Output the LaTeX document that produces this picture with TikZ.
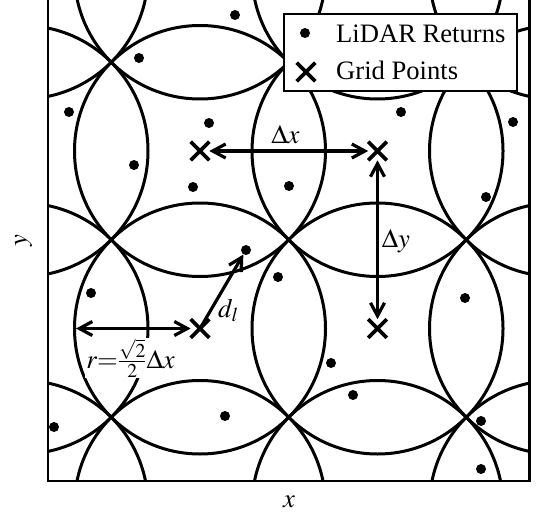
\documentclass[tikz,border=0pt]{standalone}
\usepackage{mathptmx}
\usepackage{fontspec}
\setmainfont{Liberation Serif}
\usetikzlibrary{arrows.meta,shapes.misc}
\begin{document}
\begin{tikzpicture}[x=1pt,y=-1pt,
  lbl/.style={font=\fontsize{26.6}{32}\selectfont, inner sep=0pt},
  ring/.style={line width=3pt},
  ret/.style={circle, fill=black, inner sep=0pt, minimum size=10pt},
  gp/.style={cross out, draw=black, line width=3.6pt, inner sep=0pt, minimum size=15pt},
  dim/.style={line width=3.2pt, >={Straight Barb[length=13pt,width=14pt]}},
  frame/.style={line width=2.6pt}]
\useasboundingbox (0,0) rectangle (537,513);
% circles of influence
\begin{scope}
  \clip (48,-5) rectangle (529.5,481);
  \foreach \cx in {22.5,200,377.5,555}
    \foreach \cy in {-26.5,151,328.5,506}
      \draw[ring] (\cx,\cy) circle[radius=125.5pt];
\end{scope}
% LiDAR returns
\node[ret] (d1) at (235,15) {};
\node[ret] (d2) at (139,58) {};
\node[ret] (d3) at (69,112) {};
\node[ret] (d4) at (209,123) {};
\node[ret] (d5) at (134,165) {};
\node[ret] (d6) at (193,187) {};
\node[ret] (dl) at (246,250) {};
\node[ret] (d8) at (401,112) {};
\node[ret] (d9) at (513,122) {};
\node[ret] (d10) at (289,186) {};
\node[ret] (d11) at (486,197) {};
\node[ret] (d12) at (91,293) {};
\node[ret] (d13) at (54,427) {};
\node[ret] (d14) at (225,416) {};
\node[ret] (d15) at (278,277) {};
\node[ret] (d16) at (465,298) {};
\node[ret] (d17) at (331,363) {};
\node[ret] (d18) at (353,395) {};
\node[ret] (d19) at (481,421) {};
\node[ret] (d20) at (481,469) {};
% grid points
\node[gp] (g1) at (200,151) {};
\node[gp] (g2) at (377.5,151) {};
\node[gp] (g3) at (200,328.5) {};
\node[gp] (g4) at (377.5,328.5) {};
\coordinate (rl) at (76,328.5);
% dimension arrows
\draw[dim,<->] (g1) -- (g2);
\draw[dim,<->] (g2) -- (g4);
\draw[dim,<->] (rl) -- (g3);
\draw[dim,->] (g3.center) -- (dl);
% labels
\node[lbl, anchor=base] (lx) at (285.5,143) {$\Delta x$};
\node[lbl, anchor=base] (ly) at (396,247) {$\Delta y$};
\node[lbl, anchor=base west] (ldl) at (218,317) {$d_l$};
\node[lbl, anchor=base, fill=white, inner sep=1pt] (lr) at (130.5,368) {$r{=}\frac{\sqrt{2}}{2}\Delta x$};
% axis labels
\node[lbl, anchor=base] (xl) at (289,507) {$x$};
\node[lbl, rotate=90] (yl) at (23.5,241) {$y$};
% legend
\node[draw=black, fill=white, line width=2pt, minimum width=233pt, minimum height=77pt, inner sep=0pt, anchor=north west] (leg) at (283,13) {};
\node[ret] (legd) at (305,33) {};
\node[gp] (legx) at (306,72) {};
\node[lbl, anchor=base west] (legt1) at (336,43) {LiDAR Returns};
\node[lbl, anchor=base west] (legt2) at (336,80) {Grid Points};
% frame
\draw[frame] (48,-5) rectangle (529.5,481);
\end{tikzpicture}
\end{document}
